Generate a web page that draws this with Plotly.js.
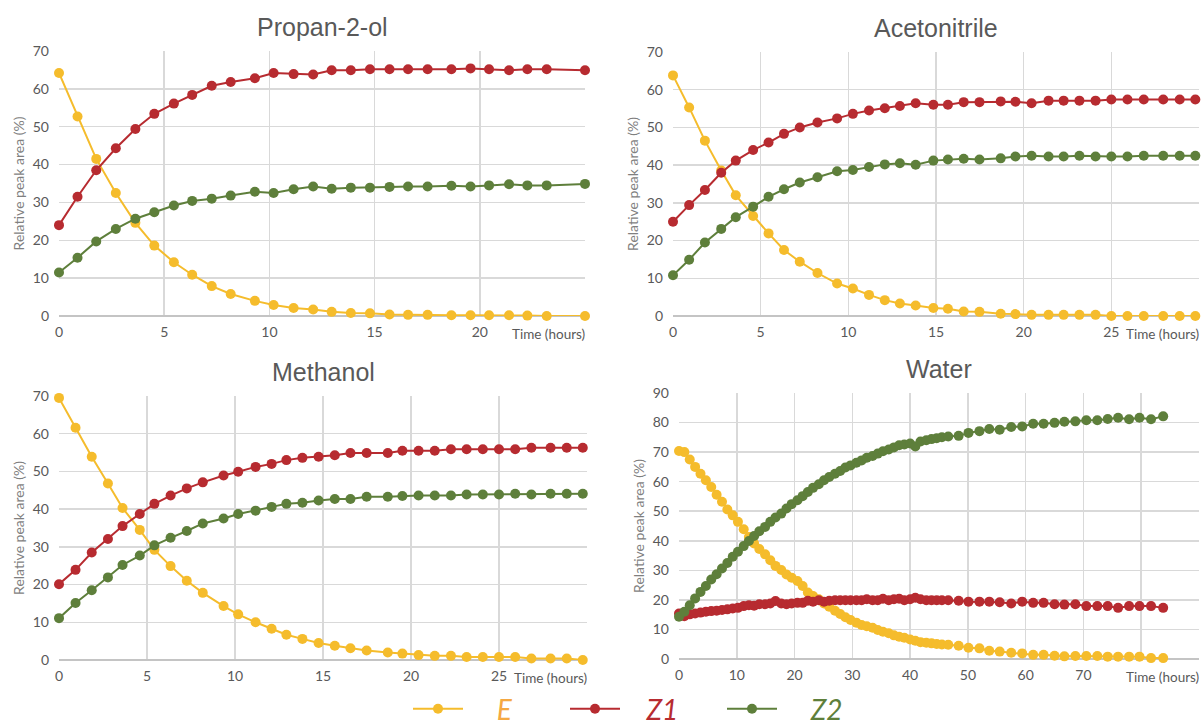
<!DOCTYPE html>
<html>
<head>
<meta charset="utf-8">
<script src="https://cdn.plot.ly/plotly-3.0.1.min.js"></script>
<style>
  html, body { margin: 0; padding: 0; background: #ffffff; }
  #chart { width: 1202px; height: 728px; }
</style>
</head>
<body>
<div id="chart"></div>
<script>
// ---------- Data ----------
// Propan-2-ol
const timeProp = [0, 0.88, 1.77, 2.70, 3.63, 4.53, 5.46, 6.33, 7.26, 8.16, 9.31, 10.20, 11.15, 12.08, 12.96, 13.87, 14.78, 15.71, 16.59, 17.52, 18.65, 19.56, 20.44, 21.39, 22.26, 23.18, 25.0];
const propE  = [64.2, 52.7, 41.5, 32.5, 24.6, 18.6, 14.2, 10.9, 7.9, 5.8, 4.0, 2.9, 2.1, 1.7, 1.1, 0.8, 0.7, 0.4, 0.3, 0.3, 0.2, 0.2, 0.2, 0.2, 0.1, 0.0, 0.0];
const propZ1 = [24.0, 31.5, 38.5, 44.3, 49.4, 53.4, 56.1, 58.4, 60.8, 61.8, 62.8, 64.2, 63.9, 63.8, 64.9, 64.9, 65.2, 65.2, 65.2, 65.2, 65.2, 65.4, 65.2, 64.9, 65.2, 65.2, 64.9];
const propZ2 = [11.5, 15.4, 19.7, 23.0, 25.7, 27.4, 29.2, 30.4, 31.0, 31.8, 32.8, 32.5, 33.5, 34.2, 33.6, 33.9, 33.9, 34.1, 34.2, 34.2, 34.4, 34.2, 34.5, 34.8, 34.5, 34.5, 34.9];

// Acetonitrile
const timeAcn = [0, 0.92, 1.82, 2.75, 3.58, 4.57, 5.45, 6.33, 7.23, 8.24, 9.36, 10.26, 11.18, 12.08, 12.94, 13.84, 14.85, 15.68, 16.58, 17.48, 18.69, 19.53, 20.45, 21.42, 22.28, 23.18, 24.10, 25.0, 25.92, 26.85, 27.96, 28.90, 29.79];
const acnE  = [63.8, 55.3, 46.5, 38.6, 32.0, 26.5, 21.9, 17.5, 14.4, 11.4, 8.6, 7.3, 5.6, 4.2, 3.3, 2.8, 2.1, 1.9, 1.2, 1.1, 0.6, 0.5, 0.3, 0.3, 0.3, 0.3, 0.3, 0.0, 0.0, 0.0, 0.0, 0.0, 0.0];
const acnZ1 = [25.0, 29.4, 33.4, 38.0, 41.2, 44.0, 46.0, 48.3, 50.0, 51.3, 52.4, 53.6, 54.5, 55.1, 55.7, 56.4, 56.0, 56.0, 56.7, 56.7, 56.9, 56.8, 56.4, 57.1, 57.1, 57.1, 57.1, 57.4, 57.4, 57.4, 57.4, 57.4, 57.4];
const acnZ2 = [10.8, 14.9, 19.5, 23.1, 26.2, 29.0, 31.6, 33.6, 35.4, 36.8, 38.4, 38.7, 39.5, 40.2, 40.5, 40.1, 41.2, 41.5, 41.7, 41.5, 41.8, 42.3, 42.5, 42.3, 42.3, 42.5, 42.3, 42.3, 42.3, 42.5, 42.5, 42.5, 42.5];

// Methanol
const timeMeoh = [0, 0.94, 1.86, 2.78, 3.61, 4.59, 5.42, 6.34, 7.26, 8.17, 9.35, 10.18, 11.17, 12.08, 12.92, 13.83, 14.75, 15.67, 16.56, 17.48, 18.68, 19.51, 20.43, 21.35, 22.27, 23.16, 24.08, 25.0, 25.92, 26.84, 27.93, 28.85, 29.76];
const meohE  = [69.5, 61.6, 53.9, 46.8, 40.3, 34.5, 29.2, 24.9, 21.0, 17.8, 14.3, 12.1, 10.0, 8.3, 6.7, 5.6, 4.5, 3.8, 3.1, 2.5, 2.0, 1.7, 1.3, 1.1, 1.1, 0.8, 0.8, 0.8, 0.8, 0.4, 0.4, 0.4, 0.0];
const meohZ1 = [20.1, 23.9, 28.5, 32.1, 35.5, 38.7, 41.4, 43.6, 45.5, 47.1, 48.9, 49.9, 51.2, 52.0, 53.0, 53.6, 53.9, 54.3, 54.9, 54.9, 54.9, 55.5, 55.5, 55.5, 55.9, 55.9, 55.9, 55.9, 55.9, 56.3, 56.3, 56.3, 56.3];
const meohZ2 = [11.1, 15.1, 18.5, 21.9, 25.2, 27.7, 30.4, 32.4, 34.2, 36.2, 37.5, 38.7, 39.6, 40.6, 41.4, 41.7, 42.3, 42.7, 42.7, 43.3, 43.3, 43.5, 43.6, 43.6, 43.6, 43.9, 43.9, 43.9, 44.1, 43.9, 44.1, 44.1, 44.1];

// Water
const timeWater = [0, 0.93, 1.86, 2.79, 3.72, 4.65, 5.58, 6.51, 7.44, 8.37,
  9.3, 10.2, 11.2, 12.1, 13.0, 13.9, 14.9, 15.8, 16.7, 17.7,
  18.6, 19.5, 20.5, 21.4, 22.3, 23.2, 24.2, 25.1, 26.0, 27.0,
  27.9, 28.8, 29.7, 30.7, 31.6, 32.5, 33.5, 34.4, 35.3, 36.3,
  37.2, 38.1, 39.0, 40.0, 40.9, 41.8, 42.8, 43.7, 44.6, 45.5,
  46.6, 48.4, 50.1, 52.0, 53.7, 55.5, 57.5, 59.4, 61.3, 63.1,
  65.0, 66.7, 68.6, 70.5, 72.4, 74.2, 76.0, 77.9, 79.7, 81.7, 83.8];
const waterE = [70.4, 70.0, 67.5, 65.0, 62.7, 60.5, 58.2, 55.6, 53.2, 50.6,
  48.6, 46.4, 43.9, 41.3, 39.1, 37.2, 35.4, 33.4, 31.5, 30.1,
  28.6, 27.5, 26.4, 24.7, 22.5, 21.3, 20.2, 18.8, 17.7, 16.3,
  15.2, 14.1, 13.2, 12.3, 11.5, 11.1, 10.6, 9.8, 9.2, 8.7,
  8.0, 7.5, 7.2, 6.6, 6.2, 5.7, 5.5, 5.3, 5.1, 4.9,
  4.8, 4.5, 3.8, 3.6, 2.8, 2.5, 2.1, 1.9, 1.4, 1.4,
  1.1, 0.9, 1.0, 1.0, 1.0, 0.8, 0.8, 0.8, 0.8, 0.3, 0.3];
const waterZ1 = [15.4, 14.5, 15.1, 15.4, 15.7, 16.0, 16.2, 16.3, 16.6, 16.8,
  17.1, 17.3, 17.9, 18.2, 18.0, 18.5, 18.5, 18.8, 19.6, 18.8,
  18.5, 18.8, 19.0, 19.0, 19.7, 19.4, 19.9, 19.4, 19.7, 19.9,
  19.9, 19.9, 19.9, 19.9, 19.9, 20.2, 19.9, 19.9, 20.4, 19.9,
  20.2, 20.4, 19.9, 20.2, 20.7, 20.2, 19.9, 19.9, 19.9, 19.9,
  19.9, 19.7, 19.4, 19.4, 19.4, 19.2, 18.8, 19.4, 19.0, 19.0,
  18.5, 18.4, 18.5, 17.9, 17.9, 17.9, 17.3, 17.9, 17.9, 17.9, 17.3];
const waterZ2 = [14.3, 16.0, 18.2, 20.5, 22.7, 24.7, 26.9, 28.7, 30.6, 32.5,
  34.6, 36.3, 38.2, 39.9, 41.6, 43.2, 44.7, 46.4, 47.9, 49.2,
  50.9, 52.4, 53.7, 55.1, 56.5, 57.9, 59.1, 60.5, 61.6, 62.7,
  63.6, 64.8, 65.5, 66.4, 67.2, 68.1, 68.7, 69.5, 70.3, 70.9,
  71.6, 72.3, 72.6, 72.9, 71.9, 73.6, 74.0, 74.4, 74.7, 75.0,
  75.3, 75.5, 76.5, 77.1, 77.8, 77.6, 78.5, 78.7, 79.6, 79.6,
  79.9, 80.3, 80.4, 80.8, 80.8, 81.2, 81.6, 81.1, 81.6, 81.1, 82.1];

const panelTitles = ['Propan-2-ol', 'Acetonitrile', 'Methanol', 'Water'];
const seriesNames = ['E', 'Z1', 'Z2'];
const xTickVals = [[0, 5, 10, 15, 20, 25], [0, 5, 10, 15, 20, 25, 30], [0, 5, 10, 15, 20, 25, 30], [0, 10, 20, 30, 40, 50, 60, 70, 80, 90]];
const xTickText = [['0', '5', '10', '15', '20', ''], ['0', '5', '10', '15', '20', '25', ''], ['0', '5', '10', '15', '20', '25', ''], ['0', '10', '20', '30', '40', '50', '60', '70', '', '']];
const yMax = [70, 70, 70, 90];

// ---------- Styling ----------
const colors = ['#F5BC2C', '#B72B30', '#5E7F3B'];
const legendTextColors = ['#F5A842', '#B72B30', '#5E7F3B'];
const legendPad = ['&nbsp;&nbsp;&nbsp;&nbsp;', '&nbsp;&nbsp;&nbsp;', '&nbsp;&nbsp;&nbsp;&nbsp;'];
const tickFont = { family: 'Lato, Liberation Sans, sans-serif', size: 14, color: '#595959' };

const panels = [
  { t: timeProp, ys: [propE, propZ1, propZ2], xd: [59 / 1202, 585 / 1202], yd: [1 - 316 / 728, 1 - 51 / 728] },
  { t: timeAcn, ys: [acnE, acnZ1, acnZ2], xd: [673 / 1202, 1199 / 1202], yd: [1 - 316 / 728, 1 - 52 / 728] },
  { t: timeMeoh, ys: [meohE, meohZ1, meohZ2], xd: [59 / 1202, 587 / 1202], yd: [1 - 660 / 728, 1 - 396 / 728] },
  { t: timeWater, ys: [waterE, waterZ1, waterZ2], xd: [679 / 1202, 1199 / 1202], yd: [1 - 659 / 728, 1 - 393 / 728] }
];

const traces = [];
const layout = {
  width: 1202, height: 728,
  margin: { l: 0, r: 0, t: 0, b: 0, autoexpand: false },
  paper_bgcolor: '#ffffff', plot_bgcolor: '#ffffff',
  showlegend: true,
  legend: {
    orientation: 'h', x: 408 / 1202, y: 1 - 709 / 728, xanchor: 'left', yanchor: 'middle',
    font: { family: 'Lato, Liberation Sans, sans-serif', size: 28 },
    itemwidth: 50, entrywidth: 92, entrywidthmode: 'pixels',
    tracegroupgap: 0, bgcolor: 'rgba(0,0,0,0)'
  },
  annotations: []
};

panels.forEach((p, i) => {
  const n = i === 0 ? '' : String(i + 1);
  const xa = 'x' + n, ya = 'y' + n;
  p.ys.forEach((vals, s) => {
    traces.push({
      type: 'scatter', mode: 'lines+markers',
      x: p.t, y: vals, xaxis: xa, yaxis: ya,
      name: legendPad[s] + '<i><span style="color:' + legendTextColors[s] + '">' + seriesNames[s] + '</span></i>',
      legendgroup: seriesNames[s], showlegend: i === 0,
      line: { color: colors[s], width: 2 },
      marker: { color: colors[s], size: 10 },
      cliponaxis: false, hoverinfo: 'x+y'
    });
  });
  const xMax = xTickVals[i][xTickVals[i].length - 1];
  layout['xaxis' + n] = {
    domain: p.xd, anchor: ya, range: [0, xMax],
    tickmode: 'array', tickvals: xTickVals[i], ticktext: xTickText[i],
    showgrid: true, gridcolor: '#D9D9D9', gridwidth: 1.5,
    zeroline: false, showline: false, ticks: '',
    tickfont: tickFont, ticklabelstandoff: 6, fixedrange: true
  };
  layout['yaxis' + n] = {
    domain: p.yd, anchor: xa, range: [0, yMax[i]], dtick: 10,
    showgrid: true, gridcolor: '#D9D9D9', gridwidth: 1.5,
    zeroline: true, zerolinecolor: '#C4C4C4', zerolinewidth: 2,
    showline: false, ticks: '',
    tickfont: tickFont, ticklabelstandoff: 9, fixedrange: true,
    title: { text: 'Relative peak area (%)', font: { family: 'Lato, Liberation Sans, sans-serif', size: 14, color: '#7F7F7F' }, standoff: 4 }
  };
  // panel title
  layout.annotations.push({
    text: panelTitles[i], showarrow: false,
    xref: xa + ' domain', yref: ya + ' domain', x: 0.5, y: 1, xanchor: 'center', yanchor: 'bottom', yshift: 8,
    font: { family: 'Liberation Sans, Arial, sans-serif', size: 25, color: '#595959' }
  });
  // x-axis title placed at the right end (as in the reference)
  layout.annotations.push({
    text: 'Time (hours)', showarrow: false,
    xref: xa + ' domain', yref: ya + ' domain', x: 1, y: 0, xanchor: 'right', yanchor: 'top', yshift: -8, xshift: 2,
    font: { family: 'Lato, Liberation Sans, sans-serif', size: 13.5, color: '#595959' }
  });
});

Plotly.newPlot('chart', traces, layout, { displayModeBar: false, staticPlot: true });
</script>
</body>
</html>
